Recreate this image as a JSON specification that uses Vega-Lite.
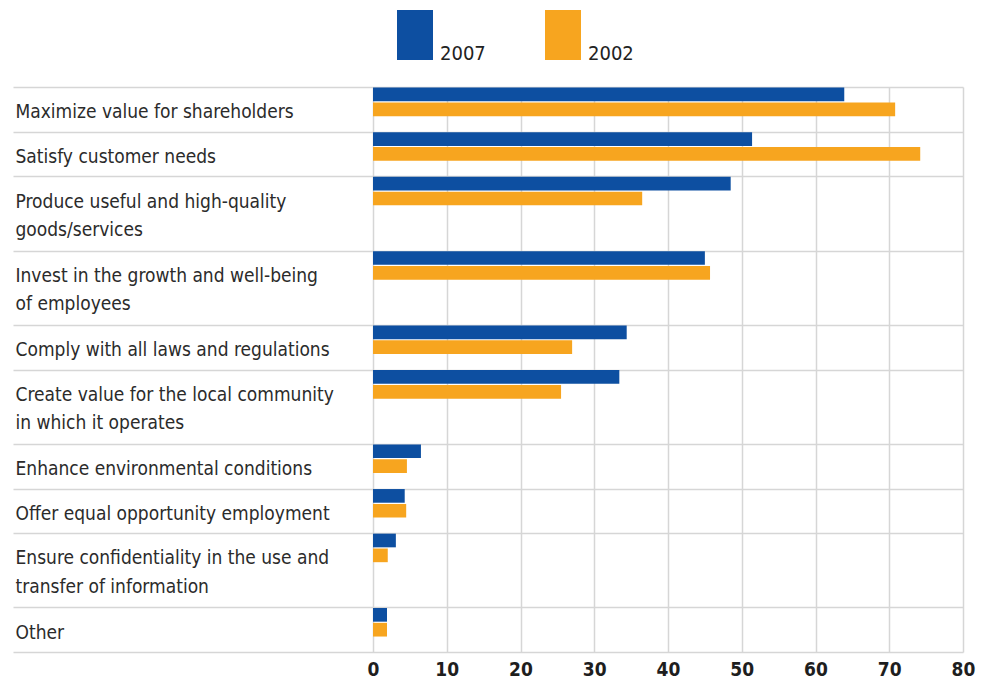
{
  "$schema": "https://vega.github.io/schema/vega-lite/v6.json",
  "width": 950,
  "height": 565,
  "autosize": {"type": "none"},
  "padding": {"left": 13, "top": 87, "right": 19, "bottom": 29},
  "background": "white",
  "view": {"stroke": null},
  "data": {
    "values": [
      {"category": "Maximize value for shareholders", "year": "2007", "value": 63.9},
      {"category": "Maximize value for shareholders", "year": "2002", "value": 70.8},
      {"category": "Satisfy customer needs", "year": "2007", "value": 51.4},
      {"category": "Satisfy customer needs", "year": "2002", "value": 74.2},
      {"category": "Produce useful and high-quality goods/services", "year": "2007", "value": 48.5},
      {"category": "Produce useful and high-quality goods/services", "year": "2002", "value": 36.5},
      {"category": "Invest in the growth and well-being of employees", "year": "2007", "value": 45.0},
      {"category": "Invest in the growth and well-being of employees", "year": "2002", "value": 45.7},
      {"category": "Comply with all laws and regulations", "year": "2007", "value": 34.4},
      {"category": "Comply with all laws and regulations", "year": "2002", "value": 27.0},
      {"category": "Create value for the local community in which it operates", "year": "2007", "value": 33.4},
      {"category": "Create value for the local community in which it operates", "year": "2002", "value": 25.5},
      {"category": "Enhance environmental conditions", "year": "2007", "value": 6.5},
      {"category": "Enhance environmental conditions", "year": "2002", "value": 4.6},
      {"category": "Offer equal opportunity employment", "year": "2007", "value": 4.3},
      {"category": "Offer equal opportunity employment", "year": "2002", "value": 4.5},
      {"category": "Ensure confidentiality in the use and transfer of information", "year": "2007", "value": 3.1},
      {"category": "Ensure confidentiality in the use and transfer of information", "year": "2002", "value": 2.0},
      {"category": "Other", "year": "2007", "value": 1.9},
      {"category": "Other", "year": "2002", "value": 1.9}
    ]
  },
  "transform": [
    {"calculate": "datum.category + '|' + datum.year", "as": "slot"}
  ],
  "mark": {"type": "bar"},
  "encoding": {
    "y": {
      "field": "slot",
      "type": "nominal",
      "sort": null,
      "scale": {
        "domain": [
          "Maximize value for shareholders|2007", "Maximize value for shareholders|2002", "Maximize value for shareholders|pad",
          "Satisfy customer needs|2007", "Satisfy customer needs|2002", "Satisfy customer needs|pad",
          "Produce useful and high-quality goods/services|2007", "Produce useful and high-quality goods/services|2002", "Produce useful and high-quality goods/services|pad1", "Produce useful and high-quality goods/services|pad2", "Produce useful and high-quality goods/services|pad3",
          "Invest in the growth and well-being of employees|2007", "Invest in the growth and well-being of employees|2002", "Invest in the growth and well-being of employees|pad1", "Invest in the growth and well-being of employees|pad2", "Invest in the growth and well-being of employees|pad3",
          "Comply with all laws and regulations|2007", "Comply with all laws and regulations|2002", "Comply with all laws and regulations|pad",
          "Create value for the local community in which it operates|2007", "Create value for the local community in which it operates|2002", "Create value for the local community in which it operates|pad1", "Create value for the local community in which it operates|pad2", "Create value for the local community in which it operates|pad3",
          "Enhance environmental conditions|2007", "Enhance environmental conditions|2002", "Enhance environmental conditions|pad",
          "Offer equal opportunity employment|2007", "Offer equal opportunity employment|2002", "Offer equal opportunity employment|pad",
          "Ensure confidentiality in the use and transfer of information|2007", "Ensure confidentiality in the use and transfer of information|2002", "Ensure confidentiality in the use and transfer of information|pad1", "Ensure confidentiality in the use and transfer of information|pad2", "Ensure confidentiality in the use and transfer of information|pad3",
          "Other|2007", "Other|2002", "Other|pad"
        ],
        "paddingInner": 0.08,
        "paddingOuter": 0.04
      },
      "axis": {
        "title": null,
        "values": [
          "Maximize value for shareholders|2007",
          "Satisfy customer needs|2007",
          "Produce useful and high-quality goods/services|2007",
          "Invest in the growth and well-being of employees|2007",
          "Comply with all laws and regulations|2007",
          "Create value for the local community in which it operates|2007",
          "Enhance environmental conditions|2007",
          "Offer equal opportunity employment|2007",
          "Ensure confidentiality in the use and transfer of information|2007",
          "Other|2007"
        ],
        "bandPosition": 0,
        "grid": true,
        "gridColor": "#d6d6d6",
        "gridWidth": 1.5,
        "ticks": false,
        "tickSize": 0,
        "domain": false,
        "labelAlign": "left",
        "labelBaseline": "alphabetic",
        "labelPadding": -2,
        "labelOffset": 24,
        "labelFont": "DejaVu Sans Condensed, Roboto Condensed, Roboto, sans-serif",
        "labelFontSize": 19,
        "labelColor": "#2b2b2b",
        "labelLimit": 0,
        "labelLineHeight": 28.4,
        "labelOverlap": false,
        "labelBound": false,
        "labelExpr": "datum.value == 'Produce useful and high-quality goods/services|2007' ? ['Produce useful and high-quality', 'goods/services'] : datum.value == 'Invest in the growth and well-being of employees|2007' ? ['Invest in the growth and well-being', 'of employees'] : datum.value == 'Create value for the local community in which it operates|2007' ? ['Create value for the local community', 'in which it operates'] : datum.value == 'Ensure confidentiality in the use and transfer of information|2007' ? ['Ensure confidentiality in the use and', 'transfer of information'] : split(datum.value, '|')[0]"
      }
    },
    "x": {
      "field": "value",
      "type": "quantitative",
      "scale": {"domain": [-48.8136, 80], "nice": false, "zero": false},
      "axis": {
        "title": null,
        "values": [0, 10, 20, 30, 40, 50, 60, 70, 80],
        "grid": true,
        "gridColor": "#d6d6d6",
        "gridWidth": 1.5,
        "ticks": false,
        "tickSize": 0,
        "domain": true,
        "domainColor": "#d6d6d6",
        "domainWidth": 1.5,
        "labelFont": "DejaVu Sans Condensed, Roboto Condensed, Roboto, sans-serif",
        "labelFontWeight": "bold",
        "labelFontSize": 19,
        "labelColor": "#1e1e1e",
        "labelPadding": 8,
        "labelFlush": false,
        "labelOverlap": false
      }
    },
    "color": {
      "field": "year",
      "type": "nominal",
      "scale": {"domain": ["2007", "2002"], "range": ["#0d4fa1", "#f7a51f"]},
      "legend": {
        "title": null,
        "orient": "none",
        "legendX": 377,
        "legendY": -52,
        "direction": "horizontal",
        "padding": 0,
        "symbolType": "M-0.72,-2H0.72V0H-0.72Z",
        "symbolSize": 2500,
        "symbolStrokeWidth": 0,
        "symbolOpacity": 1,
        "labelFont": "DejaVu Sans Condensed, Roboto Condensed, Roboto, sans-serif",
        "labelFontSize": 20,
        "labelColor": "#222222",
        "labelBaseline": "alphabetic",
        "labelOffset": 0,
        "columnPadding": 52
      }
    }
  }
}
